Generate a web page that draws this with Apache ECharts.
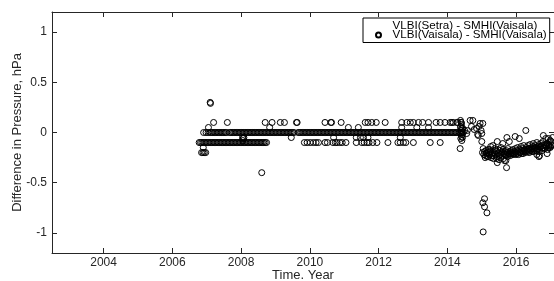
<!DOCTYPE html>
<html>
<head>
<meta charset="utf-8">
<script src="https://cdn.jsdelivr.net/npm/echarts@6/dist/echarts.min.js"></script>
<style>
html,body{margin:0;padding:0;background:#fff;}
#chart{width:554px;height:281px;}
</style>
</head>
<body>
<div id="chart"></div>
<script>
const seriesNames = ['VLBI(Setra) - SMHI(Vaisala)', 'VLBI(Vaisala) - SMHI(Vaisala)'];
const xTickValues = [2004, 2006, 2008, 2010, 2012, 2014, 2016];
const yTickValues = [-1, -0.5, 0, 0.5, 1];
const xLabel = 'Time. Year';
const yLabel = 'Difference in Pressure, hPa';

// years where difference = 0 hPa
const zeroLevelYears = [
 2006.91,2006.98,2007.04,
 2007.10,2007.14,2007.18,2007.22,2007.26,2007.30,2007.34,2007.38,2007.42,2007.46,2007.50,2007.54,2007.58,
 2007.66,2007.70,2007.74,2007.78,2007.82,2007.86,2007.90,2007.94,2007.98,
 2008.02,2008.06,2008.10,2008.14,2008.18,2008.22,2008.26,2008.30,2008.34,2008.38,2008.42,2008.46,2008.50,2008.54,2008.58,2008.62,2008.66,2008.70,2008.74,2008.78,2008.82,2008.86,2008.90,2008.94,2008.98,
 2009.02,2009.06,2009.10,2009.14,2009.18,2009.22,2009.26,2009.30,2009.34,2009.38,2009.42,2009.46,2009.50,2009.54,2009.66,2009.70,2009.74,2009.78,2009.82,2009.86,2009.90,2009.94,2009.98,
 2010.02,2010.06,2010.10,2010.14,2010.18,2010.22,2010.26,2010.30,2010.34,2010.38,2010.42,2010.46,2010.50,2010.54,2010.58,2010.62,2010.66,2010.70,2010.74,2010.78,2010.82,2010.86,2010.90,2010.94,2010.98,
 2011.02,2011.06,2011.10,2011.14,2011.18,2011.22,2011.26,2011.30,2011.34,2011.38,2011.42,2011.46,2011.50,2011.54,2011.58,2011.62,2011.66,2011.70,2011.74,2011.78,2011.82,2011.86,2011.90,2011.94,2011.98,
 2012.02,2012.06,2012.10,2012.14,2012.18,2012.22,2012.26,2012.30,2012.34,2012.38,2012.42,2012.46,2012.50,2012.54,2012.58,2012.62,2012.66,2012.70,2012.74,2012.78,2012.82,2012.86,2012.90,2012.94,2012.98,
 2013.02,2013.06,2013.10,2013.14,2013.18,2013.22,2013.26,2013.30,2013.34,2013.38,2013.42,2013.46,2013.50,2013.54,2013.58,2013.62,2013.66,2013.70,2013.74,2013.78,2013.82,2013.86,2013.90,2013.94,2013.98,
 2014.02,2014.06,2014.10,2014.14,2014.18,2014.22,2014.26,2014.30,2014.34,2014.38,2014.42,2014.46
];

// years where difference = -0.1 hPa
const minusTenthYears = [
 2006.78,2006.82,2006.86,2006.90,2006.94,2006.98,
 2007.02,2007.06,2007.10,2007.14,2007.18,2007.22,2007.26,2007.30,2007.34,2007.38,2007.42,2007.46,2007.50,2007.54,2007.58,2007.62,2007.66,2007.70,2007.74,2007.78,2007.82,2007.86,2007.90,2007.94,2007.98,
 2008.02,2008.06,2008.10,2008.14,2008.18,2008.22,2008.26,2008.30,2008.34,2008.38,2008.42,2008.46,2008.50,2008.54,2008.58,2008.62,2008.66,2008.70,2008.74,
 2009.84,2009.92,2010.01,2010.10,2010.18,2010.25,2010.44,2010.51,2010.67,2010.74,2010.79,2010.87,2010.94,2011.05,
 2011.35,2011.51,2011.58,2011.66,2011.72,2011.83,2011.95,2012.27,2012.56,2012.63,2012.72,2012.79,2013.01,2013.50,2013.79
];

// years where difference = +0.1 hPa
const plusTenthYears = [
 2007.20,2007.60,2008.70,2008.90,2009.14,2009.26,2009.61,2009.63,2010.44,2010.61,2010.63,2010.91,
 2011.61,2011.69,2011.80,2011.93,2012.19,2012.67,2012.82,2012.92,2013.01,2013.16,2013.28,2013.45,
 2013.67,2013.79,2013.93,2014.08,2014.13,2014.17,2014.27,2014.30,2014.40
];

// other values before the 2014.5 change
const otherPoints = [
 [2007.10,0.3],[2007.11,0.29],[2007.05,0.05],[2008.83,0.05],[2011.12,0.05],[2011.41,0.05],[2012.67,0.05],
 [2013.11,0.05],[2013.45,0.05],[2008.04,-0.05],[2008.06,-0.06],[2008.08,-0.05],[2008.05,-0.08],
 [2009.46,-0.05],[2010.69,-0.05],[2011.35,-0.05],[2011.47,-0.05],[2011.56,-0.05],[2011.69,-0.05],
 [2012.63,-0.05],[2006.90,-0.15],[2006.85,-0.2],[2006.89,-0.2],[2006.93,-0.2],[2006.97,-0.2],[2008.60,-0.4],
 [2014.38,0.12],[2014.40,0.10],[2014.41,0.08],[2014.39,0.06],[2014.42,0.04],[2014.40,0.02],[2014.43,-0.02],
 [2014.41,-0.04],[2014.39,-0.06],[2014.42,-0.08],[2014.38,0.05],[2014.44,-0.05],[2014.37,-0.16],[2014.40,-0.01]
];

// values after the 2014.5 change
const postShiftPoints = [
 [2014.45,0.04],[2014.50,0.02],[2014.56,-0.01],[2014.58,0.02],[2014.66,0.12],[2014.74,0.12],[2014.70,0.06],
 [2014.78,0.03],[2014.85,0.04],[2014.88,-0.02],[2014.90,-0.03],[2014.92,0.06],[2014.95,0.09],[2014.98,0.02],
 [2015.00,-0.01],[2015.03,0.09],[2015.00,-0.09],
 [2015.02,-0.20],[2015.04,-0.16],[2015.06,-0.22],[2015.08,-0.19],[2015.10,-0.25],[2015.12,-0.18],[2015.14,-0.21],
 [2015.16,-0.24],[2015.18,-0.17],[2015.20,-0.20],[2015.22,-0.22],[2015.24,-0.19],[2015.26,-0.14],[2015.28,-0.21],
 [2015.30,-0.23],[2015.32,-0.13],[2015.34,-0.26],[2015.36,-0.20],[2015.38,-0.16],[2015.40,-0.22],[2015.42,-0.19],
 [2015.44,-0.24],[2015.45,-0.09],[2015.48,-0.21],[2015.50,-0.27],[2015.52,-0.18],[2015.54,-0.22],[2015.56,-0.15],
 [2015.58,-0.20],[2015.61,-0.11],[2015.62,-0.17],[2015.64,-0.21],[2015.66,-0.28],[2015.68,-0.19],[2015.70,-0.23],
 [2015.73,-0.05],[2015.74,-0.20],[2015.76,-0.16],[2015.78,-0.22],[2015.80,-0.09],[2015.82,-0.19],[2015.84,-0.21],
 [2015.86,-0.18],[2015.88,-0.20],[2015.90,-0.17],[2015.92,-0.21],[2015.97,-0.04],[2015.96,-0.19],[2015.98,-0.16],
 [2016.00,-0.20],[2016.02,-0.18],[2016.04,-0.15],[2016.06,-0.19],[2016.09,-0.06],[2016.10,-0.17],[2016.12,-0.20],
 [2016.14,-0.14],[2016.16,-0.18],[2016.18,-0.16],[2016.20,-0.21],[2016.22,-0.13],[2016.24,-0.17],[2016.26,-0.19],
 [2016.28,0.02],[2016.30,-0.15],[2016.32,-0.18],[2016.34,-0.13],[2016.36,-0.16],[2016.38,-0.20],[2016.40,-0.12],
 [2016.42,-0.17],[2016.44,-0.15],[2016.46,-0.19],[2016.48,-0.14],[2016.50,-0.11],[2016.52,-0.16],[2016.54,-0.18],
 [2016.56,-0.13],[2016.58,-0.15],[2016.60,-0.10],[2016.62,-0.17],[2016.64,-0.14],[2016.66,-0.12],[2016.68,-0.23],
 [2016.70,-0.15],[2016.72,-0.11],[2016.74,-0.16],[2016.76,-0.13],[2016.78,-0.09],[2016.80,-0.15],[2016.79,-0.03],
 [2016.84,-0.12],[2016.86,-0.06],[2016.88,-0.14],[2016.90,-0.11],[2016.94,-0.06],[2016.94,-0.15],[2016.96,-0.13],
 [2016.99,-0.08],[2017.00,-0.14],[2017.02,-0.09],[2017.04,-0.12],[2017.06,-0.05],
 [2015.11,-0.23],[2015.15,-0.20],[2015.19,-0.24],[2015.23,-0.17],[2015.27,-0.25],[2015.31,-0.20],[2015.35,-0.23],
 [2015.39,-0.18],[2015.43,-0.26],[2015.47,-0.17],[2015.51,-0.23],[2015.55,-0.25],[2015.59,-0.19],[2015.63,-0.26],
 [2015.67,-0.22],[2015.71,-0.18],[2015.75,-0.24],[2015.79,-0.21],[2015.83,-0.23],[2015.87,-0.21],[2015.91,-0.22],
 [2015.95,-0.21],[2015.99,-0.22],[2016.03,-0.21],[2016.07,-0.22],[2016.11,-0.20],[2016.15,-0.21],[2016.19,-0.19],
 [2016.23,-0.18],[2016.27,-0.20],[2016.31,-0.17],[2016.35,-0.19],[2016.39,-0.16],[2016.43,-0.18],[2016.47,-0.16],
 [2016.51,-0.19],[2016.55,-0.15],[2016.59,-0.18],[2016.63,-0.16],[2016.67,-0.19],[2016.71,-0.14],[2016.75,-0.18],
 [2016.79,-0.15],[2016.83,-0.16],[2016.87,-0.13],[2016.91,-0.17],[2016.95,-0.12],[2016.99,-0.15],[2017.03,-0.13],
 [2015.45,-0.30],[2015.70,-0.28],[2015.72,-0.35],[2016.60,-0.22],[2016.66,-0.24],[2016.90,-0.21],
 [2015.08,-0.66],[2015.03,-0.70],[2015.08,-0.74],[2015.15,-0.80],[2015.04,-0.99]
];

const vaisalaData = []
  .concat(zeroLevelYears.map(y => [y, 0]))
  .concat(minusTenthYears.map(y => [y, -0.1]))
  .concat(plusTenthYears.map(y => [y, 0.1]))
  .concat(otherPoints)
  .concat(postShiftPoints);

const axisColor = '#262626';
const fontFam = 'Liberation Sans, Arial, sans-serif';
const chart = echarts.init(document.getElementById('chart'), null, {renderer: 'canvas'});
const xCommon = {
  type: 'value', min: 2002.5, max: 2017.1,
  axisLine: {show: true, onZero: false, lineStyle: {color: axisColor, width: 1}},
  axisTick: {show: true, inside: true, length: 5, customValues: xTickValues, lineStyle: {color: axisColor}},
  splitLine: {show: false}
};
const yCommon = {
  type: 'value', min: -1.2, max: 1.2,
  axisLine: {show: true, onZero: false, lineStyle: {color: axisColor, width: 1}},
  axisTick: {show: true, inside: true, length: 5, customValues: yTickValues, lineStyle: {color: axisColor}},
  splitLine: {show: false}
};
chart.setOption({
  animation: false,
  backgroundColor: '#fff',
  grid: {left: 52, right: 0, top: 12, bottom: 28, containLabel: false, outerBoundsMode: 'none'},
  xAxis: [
    Object.assign({}, xCommon, {
      position: 'bottom',
      name: xLabel, nameLocation: 'middle', nameGap: 16, nameMoveOverlap: false,
      nameTextStyle: {fontFamily: fontFam, fontSize: 13, color: axisColor},
      axisLabel: {show: true, customValues: xTickValues, margin: 4, fontFamily: fontFam, fontSize: 12, color: axisColor,
        formatter: v => String(v)}
    }),
    Object.assign({}, xCommon, {position: 'top', axisLabel: {show: false}})
  ],
  yAxis: [
    Object.assign({}, yCommon, {
      position: 'left',
      name: yLabel, nameLocation: 'middle', nameGap: 28, nameRotate: 90, nameMoveOverlap: false,
      nameTextStyle: {fontFamily: fontFam, fontSize: 13, color: axisColor},
      axisLabel: {show: true, customValues: yTickValues, margin: 5, fontFamily: fontFam, fontSize: 12, color: axisColor,
        formatter: v => String(v)}
    }),
    Object.assign({}, yCommon, {position: 'right', axisLabel: {show: false}})
  ],
  legend: {
    show: true, orient: 'vertical', left: 363, top: 18,
    selectedMode: false,
    data: seriesNames,
    itemWidth: 18, itemHeight: 5, itemGap: -2.5,
    padding: [1.5, 3, 1.5, 12],
    borderColor: '#000', borderWidth: 1, backgroundColor: '#fff',
    textStyle: {fontFamily: fontFam, fontSize: 11.6, color: '#000', lineHeight: 10}
  },
  series: [
    {
      name: seriesNames[0], type: 'scatter', data: [],
      symbol: 'circle', symbolSize: 5,
      itemStyle: {color: 'rgba(0,0,0,0)', borderColor: 'rgba(0,0,0,0)', borderWidth: 0}
    },
    {
      name: seriesNames[1], type: 'scatter', data: vaisalaData,
      xAxisIndex: 0, yAxisIndex: 0,
      symbol: 'circle', symbolSize: 6,
      itemStyle: {color: 'rgba(0,0,0,0)', borderColor: '#000', borderWidth: 1, opacity: 1},
      emphasis: {disabled: true}
    }
  ]
});
</script>
</body>
</html>
